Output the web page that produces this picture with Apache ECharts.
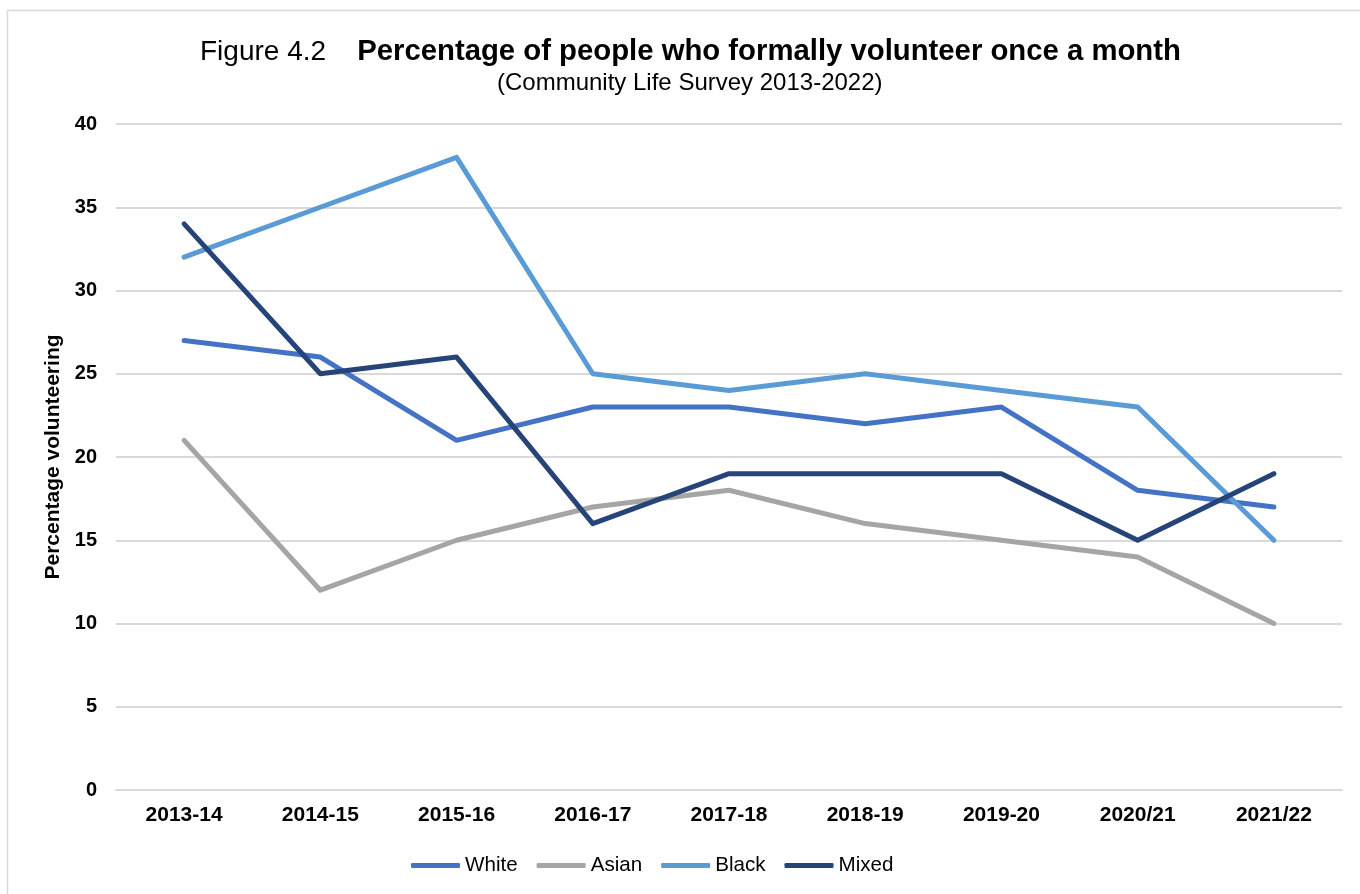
<!DOCTYPE html>
<html>
<head>
<meta charset="utf-8">
<script src="https://cdn.jsdelivr.net/npm/echarts@6/dist/echarts.min.js"></script>
<style>
html,body{margin:0;padding:0;background:#fff;}
#chart{width:1360px;height:894px;}
</style>
</head>
<body>
<div id="chart"></div>
<script>
var categories = ['2013-14','2014-15','2015-16','2016-17','2017-18','2018-19','2019-20','2020/21','2021/22'];
var seriesNames = ['White','Asian','Black','Mixed'];
var white = [27, 26, 21, 23, 23, 22, 23, 18, 17];
var asian = [21, 12, 15, 17, 18, 16, 15, 14, 10];
var black = [32, 35, 38, 25, 24, 25, 24, 23, 15];
var mixed = [34, 25, 26, 16, 19, 19, 19, 15, 19];
var yTicks = [0, 5, 10, 15, 20, 25, 30, 35, 40];

var colors = ['#4472C4', '#A5A5A5', '#5B9BD5', '#264478'];
var FONT = '"Liberation Sans", Arial, sans-serif';

var chart = echarts.init(document.getElementById('chart'));
function mk(name, data, i) {
  return {
    name: name, type: 'line', data: data, symbol: 'none',
    lineStyle: { width: 5, color: colors[i], cap: 'round', join: 'round' },
    itemStyle: { color: colors[i] },
    z: 2 + i
  };
}
chart.setOption({
  animation: false,
  backgroundColor: '#fff',
  graphic: [{
    type: 'rect', silent: true,
    shape: { x: 7.5, y: 10.5, width: 2000, height: 2000 },
    style: { fill: 'none', stroke: '#D9D9D9', lineWidth: 1.5 }
  }],
  title: [{
    text: '{a|Figure 4.2    }{b|Percentage of people who formally volunteer once a month}',
    left: 195, top: 32,
    textStyle: {
      rich: {
        a: { fontFamily: FONT, fontSize: 28, fontWeight: 'normal', color: '#000', lineHeight: 30 },
        b: { fontFamily: FONT, fontSize: 29.3, fontWeight: 'bold', color: '#000', lineHeight: 30 }
      }
    }
  }, {
    text: '(Community Life Survey 2013-2022)',
    left: 492, top: 65,
    textStyle: { fontFamily: FONT, fontSize: 24, fontWeight: 'normal', color: '#000', lineHeight: 26 }
  }],
  legend: {
    bottom: 13, left: 406,
    data: seriesNames,
    icon: 'roundRect',
    itemWidth: 49, itemHeight: 5, itemGap: 19,
    textStyle: { fontFamily: FONT, fontSize: 20.6, color: '#000' }
  },
  grid: { left: 116, right: 18, top: 124, bottom: 104, containLabel: false },
  xAxis: {
    type: 'category', data: categories, boundaryGap: true,
    axisLine: { show: true, lineStyle: { color: '#D9D9D9', width: 2 } },
    axisTick: { show: false },
    axisLabel: { fontFamily: FONT, fontSize: 21, fontWeight: 'bold', color: '#000', margin: 15 }
  },
  yAxis: {
    type: 'value', min: yTicks[0], max: yTicks[yTicks.length - 1], interval: 5,
    name: 'Percentage volunteering', nameLocation: 'middle', nameGap: 48, nameRotate: 90,
    nameTextStyle: { fontFamily: FONT, fontSize: 21, fontWeight: 'bold', color: '#000' },
    axisLine: { show: false }, axisTick: { show: false },
    splitLine: { lineStyle: { color: '#D9D9D9', width: 2 } },
    axisLabel: { fontFamily: FONT, fontSize: 20, fontWeight: 'bold', color: '#000', margin: 19 }
  },
  series: [mk('White', white, 0), mk('Asian', asian, 1), mk('Black', black, 2), mk('Mixed', mixed, 3)]
});
</script>
</body>
</html>
